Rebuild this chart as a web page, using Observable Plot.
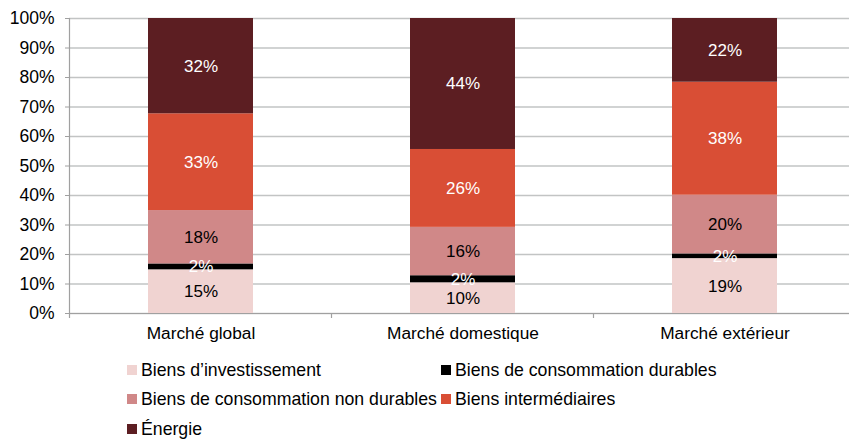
<!DOCTYPE html>
<html>
<head>
<meta charset="utf-8">
<script src="https://cdn.jsdelivr.net/npm/d3@7"></script>
<script src="https://cdn.jsdelivr.net/npm/@observablehq/plot@0.6"></script>
<style>
  html, body { margin: 0; padding: 0; background: #fff; overflow: hidden; }
  body { width: 849px; height: 439px; font-family: "Liberation Sans", Arial, sans-serif; }
  #chart svg { display: block; overflow: hidden; }
  #legend {
    display: grid;
    grid-template-columns: 314px auto;
    grid-auto-rows: 29.5px;
    padding-left: 127px;
    margin-top: 5px;
    font-size: 17.7px;
    line-height: 20px;
    color: #000;
  }
  .item { display: flex; align-items: center; white-space: nowrap; }
  .sw { width: 10px; height: 10px; margin-right: 4px; flex: none; }
</style>
</head>
<body>
<div id="chart"></div>
<div id="legend"></div>
<script>
const categories = ["Marché global", "Marché domestique", "Marché extérieur"];
const seriesNames = [
  "Biens d’investissement",
  "Biens de consommation durables",
  "Biens de consommation non durables",
  "Biens intermédiaires",
  "Énergie"
];
const investissement = [14.8, 10.4, 18.6];
const consoDurables = [2.0, 2.4, 1.6];
const consoNonDurables = [18.1, 16.4, 19.9];
const intermediaires = [32.8, 26.4, 38.3];
const energie = [32.3, 44.4, 21.6];
const seriesColors = ["#f0d3d1", "#000000", "#d08888", "#d94e35", "#5c1e22"];
const labelColors = ["#000000", "#ffffff", "#000000", "#ffffff", "#ffffff"];
const yTicks = [0, 10, 20, 30, 40, 50, 60, 70, 80, 90, 100];

const seriesValues = [investissement, consoDurables, consoNonDurables, intermediaires, energie];
const data = [];
seriesNames.forEach((s, si) => {
  categories.forEach((c, ci) => {
    data.push({category: c, series: s, value: seriesValues[si][ci], labelColor: labelColors[si]});
  });
});

const font = '"Liberation Sans", Arial, sans-serif';
const axisGray = "#a0a0a0";

const chart = Plot.plot({
  width: 849,
  height: 350,
  marginLeft: 69,
  marginRight: -6,
  marginTop: 18,
  marginBottom: 37,
  style: {fontFamily: font, fontSize: "17px", color: "#000", background: "#fff"},
  x: {domain: categories, paddingInner: 0.6, paddingOuter: 0.3, label: null},
  y: {domain: [0, 100], label: null},
  color: {domain: seriesNames, range: seriesColors},
  marks: [
    Plot.ruleY(yTicks, {stroke: "#c2c4c4", strokeWidth: 1.7}),
    Plot.barY(data, Plot.stackY({x: "category", y: "value", fill: "series", order: seriesNames})),
    Plot.text(data, Plot.stackY({
      x: "category", y: "value", z: "series", order: seriesNames,
      text: d => Math.round(d.value) + "%",
      fill: "labelColor", fontSize: 17
    })),
    Plot.ruleY([0], {stroke: axisGray, strokeWidth: 1.2}),
    Plot.frame({anchor: "left", stroke: axisGray, strokeWidth: 1.2}),
    Plot.axisY({ticks: yTicks, tickFormat: d => d + "%", tickSize: 4, tickPadding: 11,
      stroke: axisGray, fill: "#000", fontSize: 17.5, label: null}),
    Plot.axisX({tickSize: 0, tickPadding: 13, fill: "#000", fontSize: 17.3, label: null})
  ]
});

// category boundary ticks below the x axis, derived from the band scale
const xs = chart.scale("x");
const ys = chart.scale("y");
const y0 = ys.apply(0);
const gap = (xs.step - xs.bandwidth) / 2;
const bounds = categories.map(c => xs.apply(c) - gap).concat([xs.apply(categories[categories.length - 1]) + xs.bandwidth + gap]);
d3.select(chart).append("g")
  .attr("stroke", axisGray).attr("stroke-width", 1.2)
  .selectAll("line").data(bounds).join("line")
  .attr("x1", d => d).attr("x2", d => d)
  .attr("y1", y0).attr("y2", y0 + 5);

document.getElementById("chart").appendChild(chart);

// legend (rows of two, as in the reference)
const legend = d3.select("#legend");
seriesNames.forEach((name, i) => {
  const item = legend.append("div").attr("class", "item");
  item.append("div").attr("class", "sw").style("background", seriesColors[i]);
  item.append("span").text(name);
});
</script>
</body>
</html>
